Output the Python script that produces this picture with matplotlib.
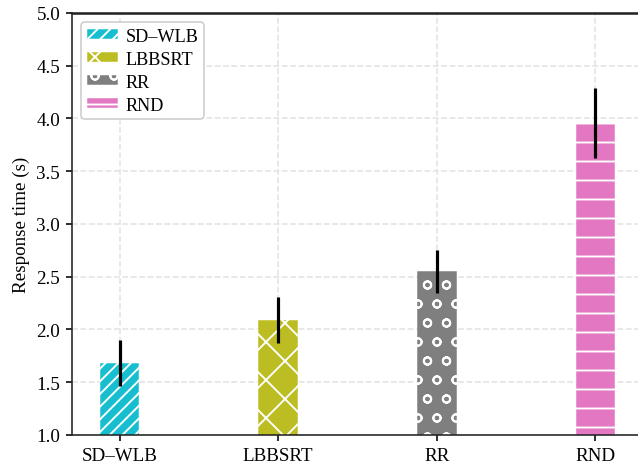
import numpy as np
import matplotlib.pyplot as plt
from matplotlib.patches import Patch

# data
methods = ['SD\u2013WLB', 'LBBSRT', 'RR', 'RND']
resp_time = [1.68, 2.09, 2.55, 3.96]
resp_err = [0.22, 0.22, 0.20, 0.33]
colors = ['#17becf', '#bcbd22', '#7f7f7f', '#e377c2']
hatches = ['///', 'x', 'o', '-']

plt.rcParams['font.family'] = ['Liberation Serif', 'DejaVu Serif']
plt.rcParams['hatch.linewidth'] = 1.2

DPI = 114
fig = plt.figure(figsize=(638 / DPI, 469 / DPI), dpi=DPI)
# right side of the axes is cut off by the picture edge, as in the reference
ax = fig.add_axes([0.1129, 0.0704, 0.9075, 0.8998])

x = np.arange(len(methods))
ax.set_axisbelow(True)
ax.grid(True, linestyle='--', color='#e3e3e3', linewidth=1.0)

for i in range(len(methods)):
    ax.bar(x[i], resp_time[i], width=0.25, color=colors[i], hatch=hatches[i],
           edgecolor='white', linewidth=0.3, zorder=2)
    ax.errorbar(x[i], resp_time[i], yerr=resp_err[i], fmt='none',
                ecolor='black', elinewidth=2.0, capsize=0, zorder=3)

ax.set_xlim(-0.3, 3.35)
ax.set_ylim(1.0, 5.0)
yt = np.arange(1.0, 5.01, 0.5)
ax.set_yticks(yt)
ax.set_yticklabels([f'{v:.1f}' for v in yt])
ax.set_xticks(x)
ax.set_xticklabels(methods)
ax.tick_params(labelsize=12, length=4, width=1.0)
ax.set_ylabel('Response time (s)', fontsize=12)

for s in ax.spines.values():
    s.set_linewidth(1.0)
    s.set_color('#222222')
ax.spines['top'].set_linewidth(1.6)
ax.spines['right'].set_visible(False)

handles = [Patch(facecolor=colors[i], hatch=hatches[i], edgecolor='white',
                 linewidth=0.3, label=methods[i]) for i in range(len(methods))]
ax.legend(handles=handles, loc='upper left', fontsize=11.5,
          handlelength=1.7, handleheight=0.4, handletextpad=0.45,
          borderpad=0.3, labelspacing=0.33, borderaxespad=0.5,
          framealpha=1.0, edgecolor='#cccccc')

fig.savefig('out.png', dpi=DPI)
